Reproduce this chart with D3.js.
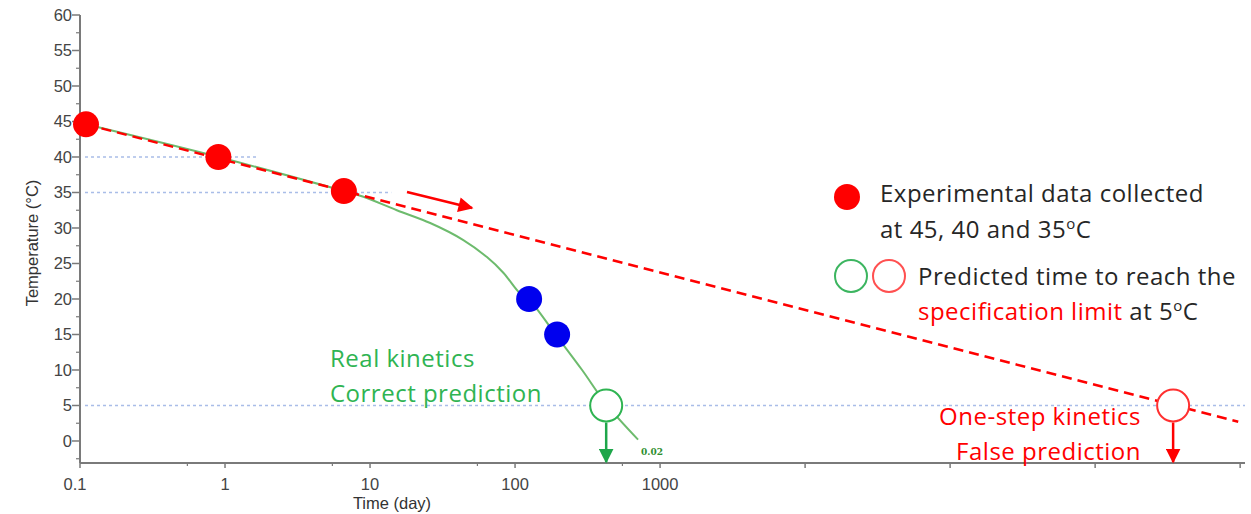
<!DOCTYPE html>
<html>
<head>
<meta charset="utf-8">
<script src="https://cdn.jsdelivr.net/npm/d3@7"></script>
<style>
  html, body { margin: 0; padding: 0; background: #fff; }
  svg { display: block; }
</style>
</head>
<body>
<svg id="chart" width="1251" height="514"></svg>
<script>
// Measured stability points (time in days, storage temperature in °C)
const expTime = [0.11, 0.9, 6.6];
const expTemp = [44.6, 40, 35.2];

// Extra points on the real (multi-step) kinetic curve
const realPtTime = [125, 195];
const realPtTemp = [20, 15];

// Real kinetics curve
const realCurveTime = [0.11, 0.9, 6.6, 9, 15.3, 26, 44, 64, 83, 108, 125, 195, 290, 425, 705];
const realCurveTemp = [44.6, 40, 35.2, 34.4, 32.5, 30.7, 28.3, 25.9, 23.7, 20.8, 19.9, 14.7, 10, 5.2, 0.2];

// One-step (Arrhenius) extrapolation
const oneStepTime = [0.11, 9.7e6];
const oneStepTemp = [44.6, 2.7];

// Predicted time to reach the specification limit at 5 °C
const predTimeReal = 425;
const predTimeOneStep = 3.45e6;
const specTemp = 5;

// Reference temperature guides
const guideTemp = [40, 35, 5];
const guideEnd = [1.7, 14, 1.08e7];

// Axis ticks
const xMajorTicks = [0.1, 1, 10, 100, 1000, 1e4, 1e5, 1e6, 1e7];
const xTickLabels = ["0.1", "1", "10", "100", "1000", "", "", "", ""];
const xMinorTicks = [0.55, 5.5, 55, 550];
const yMajorTicks = [0, 5, 10, 15, 20, 25, 30, 35, 40, 45, 50, 55, 60];
const yMinorTicks = [-2.5, 2.5, 7.5, 12.5, 17.5, 22.5, 27.5, 32.5, 37.5, 42.5, 47.5, 52.5, 57.5];

const svg = d3.select("#chart");
const x = d3.scaleLog().domain([0.1, 1.08e7]).range([80, 1245]);
const y = d3.scaleLinear().domain([-3.1, 60]).range([463, 15]);

const RED = "#ff0000";
const GREEN_LINE = "#6dbb6d";
const GREEN = "#2fb452";
const TXT = "#262626";
const AXIS = "#7a7a7a";
const AXFONT = "Liberation Sans, Arial, sans-serif";

// defs: arrowheads
const defs = svg.append("defs");
function marker(id, color, w, h) {
  defs.append("marker")
    .attr("id", id).attr("viewBox", "0 0 10 10")
    .attr("refX", 9).attr("refY", 5)
    .attr("markerWidth", w).attr("markerHeight", h)
    .attr("markerUnits", "userSpaceOnUse")
    .attr("orient", "auto")
    .append("path").attr("d", "M0,0 L10,5 L0,10 Z").attr("fill", color);
}
marker("arrRed", RED, 18, 15);
marker("arrGreen", "#1ea64a", 15, 15);
marker("arrRedDown", RED, 15, 15);

// guide lines
svg.append("g").selectAll("line").data(guideTemp).join("line")
  .attr("x1", 85).attr("x2", (d, i) => x(guideEnd[i]))
  .attr("y1", d => y(d)).attr("y2", d => y(d))
  .attr("stroke", "#a9bde8").attr("stroke-width", 1.5)
  .attr("stroke-dasharray", "3,3");

// axes
const gx = svg.append("g").attr("transform", `translate(0,${y(-3.1)})`);
gx.append("line").attr("x1", 80).attr("x2", 1245).attr("stroke", AXIS).attr("stroke-width", 2);
gx.selectAll(".maj").data(xMajorTicks).join("line").attr("class", "maj")
  .attr("x1", d => x(d)).attr("x2", d => x(d)).attr("y1", 0).attr("y2", 5)
  .attr("stroke", AXIS).attr("stroke-width", 1.5);
gx.selectAll(".min").data(xMinorTicks).join("line").attr("class", "min")
  .attr("x1", d => x(d)).attr("x2", d => x(d)).attr("y1", 0).attr("y2", 3)
  .attr("stroke", AXIS).attr("stroke-width", 1.2);
gx.selectAll("text").data(xMajorTicks).join("text")
  .attr("x", d => x(d) - (d === 0.1 ? 5 : 0)).attr("y", 27)
  .attr("text-anchor", "middle")
  .attr("font-family", AXFONT).attr("font-size", 16.5)
  .attr("fill", "#444").text((d, i) => xTickLabels[i]);

const gy = svg.append("g").attr("transform", `translate(80,0)`);
gy.append("line").attr("y1", y(60)).attr("y2", y(-3.1)).attr("stroke", AXIS).attr("stroke-width", 2);
gy.selectAll(".maj").data(yMajorTicks).join("line").attr("class", "maj")
  .attr("x1", -8).attr("x2", 0).attr("y1", d => y(d)).attr("y2", d => y(d))
  .attr("stroke", AXIS).attr("stroke-width", 1.5);
gy.selectAll(".min").data(yMinorTicks).join("line").attr("class", "min")
  .attr("x1", -4).attr("x2", 0).attr("y1", d => y(d)).attr("y2", d => y(d))
  .attr("stroke", AXIS).attr("stroke-width", 1.2);
gy.selectAll("text").data(yMajorTicks).join("text")
  .attr("x", -8).attr("y", d => y(d) + 6)
  .attr("text-anchor", "end")
  .attr("font-family", AXFONT).attr("font-size", 16.5)
  .attr("fill", "#444").text(d => d);

svg.append("text").attr("x", 392).attr("y", 509).attr("text-anchor", "middle")
  .attr("font-family", AXFONT).attr("font-size", 16.5)
  .attr("fill", "#333").text("Time (day)");
svg.append("text").attr("transform", "translate(38,243) rotate(-90)").attr("text-anchor", "middle")
  .attr("font-family", AXFONT).attr("font-size", 16.5)
  .attr("fill", "#333").text("Temperature (°C)");

// real kinetics curve
const realLine = d3.line().x(d => x(d[0])).y(d => y(d[1])).curve(d3.curveCatmullRom.alpha(0.5));
svg.append("path").datum(realCurveTime.map((t, i) => [t, realCurveTemp[i]]))
  .attr("d", realLine).attr("fill", "none")
  .attr("stroke", GREEN_LINE).attr("stroke-width", 2);

// one-step extrapolation
svg.append("path").datum(oneStepTime.map((t, i) => [t, oneStepTemp[i]]))
  .attr("d", d3.line().x(d => x(d[0])).y(d => y(d[1])))
  .attr("fill", "none").attr("stroke", RED).attr("stroke-width", 2.5)
  .attr("stroke-dasharray", "10,6");

svg.append("text").attr("x", x(705) + 3).attr("y", y(0.2) + 15)
  .attr("font-family", "DejaVu Serif, serif").attr("font-size", 9).attr("font-weight", "bold")
  .attr("fill", "#2f8f2f").text("0.02");

// trend arrow
svg.append("line").attr("x1", 407).attr("y1", 192).attr("x2", 472).attr("y2", 208)
  .attr("stroke", RED).attr("stroke-width", 2.5).attr("marker-end", "url(#arrRed)");

// experimental points
svg.append("g").selectAll("circle").data(expTime).join("circle")
  .attr("cx", d => x(d)).attr("cy", (d, i) => y(expTemp[i])).attr("r", 13)
  .attr("fill", RED);
svg.append("g").selectAll("circle").data(realPtTime).join("circle")
  .attr("cx", d => x(d)).attr("cy", (d, i) => y(realPtTemp[i])).attr("r", 13)
  .attr("fill", "#0000ee");

// predicted points and drop arrows
function prediction(t, color, arrowColor, markerId) {
  svg.append("line").attr("x1", x(t)).attr("x2", x(t))
    .attr("y1", y(specTemp) + 17).attr("y2", y(-3.1) - 1)
    .attr("stroke", arrowColor).attr("stroke-width", 2.5)
    .attr("marker-end", `url(#${markerId})`);
  svg.append("circle").attr("cx", x(t)).attr("cy", y(specTemp)).attr("r", 16)
    .attr("fill", "#fff").attr("stroke", color).attr("stroke-width", 2);
}
prediction(predTimeReal, GREEN, "#1ea64a", "arrGreen");
prediction(predTimeOneStep, "#ff3030", RED, "arrRedDown");

// annotations
const FONT = "'Open Sans', Lato, sans-serif";
function label(xp, yp, parts, anchor) {
  const t = svg.append("text").attr("x", xp).attr("y", yp)
    .attr("font-family", FONT).attr("font-size", 24)
    .attr("letter-spacing", 0.5)
    .attr("text-anchor", anchor || "start");
  parts.forEach(p => {
    const s = t.append("tspan").attr("fill", p.c || TXT).text(p.t);
    if (p.sup) s.attr("font-size", 15).attr("dy", -9);
    if (p.down) s.attr("dy", 9);
  });
  return t;
}
label(330, 367, [{t: "Real kinetics", c: GREEN}]);
label(330, 402, [{t: "Correct prediction", c: GREEN}]);
label(1141, 425, [{t: "One-step kinetics", c: RED}], "end");
label(1141, 460, [{t: "False prediction", c: RED}], "end");

// legend
svg.append("circle").attr("cx", 847).attr("cy", 197).attr("r", 13).attr("fill", RED);
svg.append("circle").attr("cx", 851).attr("cy", 276).attr("r", 16)
  .attr("fill", "none").attr("stroke", "#3cb560").attr("stroke-width", 2);
svg.append("circle").attr("cx", 889).attr("cy", 276).attr("r", 16)
  .attr("fill", "none").attr("stroke", "#ff5050").attr("stroke-width", 2);
label(880, 202, [{t: "Experimental data collected"}]);
label(880, 238, [{t: "at 45, 40 and 35"}, {t: "o", sup: true}, {t: "C", down: true}]);
label(918, 285, [{t: "Predicted time to reach the"}]);
label(918, 320, [{t: "specification limit", c: RED}, {t: " at 5"}, {t: "o", sup: true}, {t: "C", down: true}]);
</script>
</body>
</html>
